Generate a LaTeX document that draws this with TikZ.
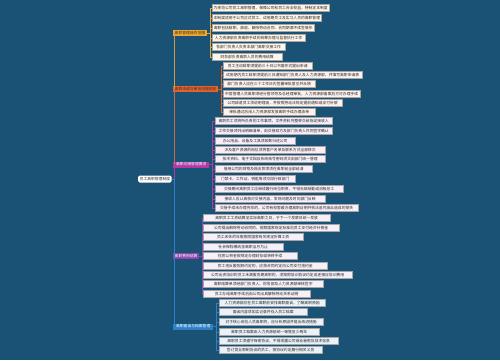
\documentclass[tikz,border=0pt]{standalone}
\usepackage{fontspec}
\setmainfont{Noto Sans CJK SC}
\usepackage{tikz}
\usetikzlibrary{positioning}

\definecolor{mapbg}{HTML}{1A5276}
\definecolor{scopecol}{HTML}{F2A62B}
\definecolor{applycol}{HTML}{E8622A}
\definecolor{handcol}{HTML}{B13BA6}
\definecolor{settlecol}{HTML}{8E44AD}
\definecolor{archcol}{HTML}{2F80C4}
\newcommand{\mapfont}{\fontsize{3.8}{4.5}\selectfont}

\begin{document}
\begin{tikzpicture}[x=1pt, y=-1pt,
    root/.style={rectangle, rounded corners=1.5pt, fill=white, minimum height=7pt, inner xsep=1.5pt, inner ysep=0pt, anchor=west, font=\mapfont, text=black!80},
    branch/.style={rectangle, fill=#1, minimum height=6pt, inner xsep=1.5pt, inner ysep=0pt, anchor=west, font=\mapfont},
    leaf/.style={rectangle, fill=#1, draw=black!35, line width=0.3pt, minimum height=7pt, inner xsep=1.5pt, inner ysep=0pt, anchor=west, font=\mapfont, text=black!85},
    link/.style={line width=0.6pt}
]
\fill[mapbg] (0,0) rectangle (500,360);

% Nodes
\node[root, minimum width=31pt] (root) at (138,179) {员工离职管理制度};

\node[branch=scopecol, minimum width=33pt, text=black!80] (scope) at (173,33) {离职管理目的范围};
\node[branch=applycol, minimum width=44pt, text=black!80] (apply) at (173,89) {离职申请与审批流程规定};
\node[branch=handcol, minimum width=36pt, text=white] (handover) at (173,164.5) {离职交接管理要求};
\node[branch=settlecol, minimum width=24pt, text=white] (settle) at (173,256) {离职费用结算};
\node[branch=archcol, minimum width=40pt, text=white] (archive) at (173,326.5) {离职面谈与档案管理};

% Leaves
\node[leaf=scopecol!10, minimum width=110pt] (scope1) at (212,8) {为规范公司员工离职管理，保障公司和员工合法权益，特制定本制度};
\node[leaf=scopecol!10, minimum width=109pt] (scope2) at (212,18) {本制度适用于公司正式员工、试用期员工及实习人员的离职管理};
\node[leaf=scopecol!10, minimum width=102pt] (scope3) at (212,28) {离职包括辞职、辞退、解除劳动合同、合同期满不续签情形};
\node[leaf=scopecol!10, minimum width=93pt] (scope4) at (212,38) {人力资源部负责离职手续的统筹办理与监督执行工作};
\node[leaf=scopecol!10, minimum width=73pt] (scope5) at (212,47) {各部门负责人负责本部门离职交接工作};
\node[leaf=scopecol!10, minimum width=70pt] (scope6) at (212,57) {财务部负责离职人员的费用结算};

\node[leaf=applycol!8, minimum width=89pt] (apply1) at (223,66) {员工主动辞职须提前三十日以书面形式提出申请};
\node[leaf=applycol!8, minimum width=139pt] (apply2) at (223,75) {试用期内员工辞职须提前三日通知部门负责人及人力资源部，并填写离职申请表};
\node[leaf=applycol!8, minimum width=92pt] (apply3) at (223,84) {部门负责人应在三个工作日内签署审批意见并反馈};
\node[leaf=applycol!8, minimum width=137pt] (apply4) at (223,94) {中层管理人员离职须经分管领导及总经理审批，人力资源部备案后方可办理手续};
\node[leaf=applycol!8, minimum width=119pt] (apply5) at (223,103) {公司辞退员工须说明理由，并按照劳动法规定提前通知或支付补偿};
\node[leaf=applycol!8, minimum width=92pt] (apply6) at (223,112) {审批通过后由人力资源部发放离职手续办理清单};

\node[leaf=handcol!8, minimum width=117pt] (hand1) at (215,121) {离职员工须将所负责的工作事项、文件资料完整移交给指定接收人};
\node[leaf=handcol!8, minimum width=117pt] (hand2) at (215,131) {工作交接须列出明细清单，由交接双方及部门负责人共同签字确认};
\node[leaf=handcol!8, minimum width=80pt] (hand3) at (215,141) {办公用品、设备及工具须如数归还公司};
\node[leaf=handcol!8, minimum width=110pt] (hand4) at (215,150) {涉及客户资源的岗位须将客户名单及联系方式全部移交};
\node[leaf=handcol!8, minimum width=110pt] (hand5) at (215,159) {技术资料、电子文档及系统账号密码须交由部门统一管理};
\node[leaf=handcol!8, minimum width=97pt] (hand6) at (215,169) {借用公司的财物及借支款项须在离职前全部结清};
\node[leaf=handcol!8, minimum width=80pt] (hand7) at (215,179) {门禁卡、工作证、钥匙等须交回行政部门};
\node[leaf=handcol!8, minimum width=128pt] (hand8) at (215,189) {交接期间离职员工应继续履行岗位职责，不得无故缺勤或消极怠工};
\node[leaf=handcol!8, minimum width=110pt] (hand9) at (215,199) {接收人应认真核对交接内容，发现问题及时向部门反映};
\node[leaf=handcol!8, minimum width=143pt] (hand10) at (215,208) {交接手续未办理完毕的，公司有权暂缓办理离职证明并依法追究由此造成的损失};

\node[leaf=settlecol!8, minimum width=127pt] (settle1) at (203,218) {离职员工工资结算至实际离职之日，于下一个发薪日统一发放};
\node[leaf=settlecol!8, minimum width=136pt] (settle2) at (203,228) {公司提出解除劳动合同的，按照国家规定标准向员工支付经济补偿金};
\node[leaf=settlecol!8, minimum width=100pt] (settle3) at (203,237) {员工未休的年假按照国家有关规定折算工资};
\node[leaf=settlecol!8, minimum width=80pt] (settle4) at (203,247) {社会保险缴纳至离职当月为止};
\node[leaf=settlecol!8, minimum width=94pt] (settle5) at (203,256) {住房公积金按规定办理封存或转移手续};
\node[leaf=settlecol!8, minimum width=124pt] (settle6) at (203,266) {员工违反服务期约定的，应按合同约定向公司支付违约金};
\node[leaf=settlecol!8, minimum width=149pt] (settle7) at (203,275) {公司出资培训的员工未满服务期离职的，须按照培训协议约定返还相应培训费用};
\node[leaf=settlecol!8, minimum width=120pt] (settle8) at (203,284) {离职结算单须经部门负责人、财务部及人力资源部审核签字};
\node[leaf=settlecol!8, minimum width=107pt] (settle9) at (203,294) {员工办结离职手续后由公司出具解除劳动关系证明};

\node[leaf=archcol!10, minimum width=106pt] (arch1) at (219,303) {人力资源部应在员工离职前安排离职面谈，了解离职原因};
\node[leaf=archcol!10, minimum width=88pt] (arch2) at (219,312) {面谈内容须如实记录并存入员工档案};
\node[leaf=archcol!10, minimum width=104pt] (arch3) at (219,322) {对于核心岗位人员离职的，应分析原因并提出改进措施};
\node[leaf=archcol!10, minimum width=100pt] (arch4) at (219,332) {离职员工档案由人力资源部统一保管至少两年};
\node[leaf=archcol!10, minimum width=119pt] (arch5) at (219,341) {离职员工须遵守保密协议，不得泄露公司商业秘密及技术信息};
\node[leaf=archcol!10, minimum width=103pt] (arch6) at (219,350) {签订竞业限制协议的员工，按协议约定履行相关义务};

% Links from root
\draw[link, scopecol!70!gray] (root.east) -- ++(2,0) |- (scope.west);
\draw[link, applycol!70!gray] (root.east) -- ++(2,0) |- (apply.west);
\draw[link, handcol] (root.east) -- ++(2,0) |- (handover.west);
\draw[link, settlecol] (root.east) -- ++(2,0) |- (settle.west);
\draw[link, archcol] (root.east) -- ++(2,0) |- (archive.west);

% Links to leaves
\draw[link, scopecol] (scope.east) -- ++(3,0) |- (scope1.west);
\draw[link, scopecol] (scope.east) -- ++(3,0) |- (scope2.west);
\draw[link, scopecol] (scope.east) -- ++(3,0) |- (scope3.west);
\draw[link, scopecol] (scope.east) -- ++(3,0) |- (scope4.west);
\draw[link, scopecol] (scope.east) -- ++(3,0) |- (scope5.west);
\draw[link, scopecol] (scope.east) -- ++(3,0) |- (scope6.west);

\draw[link, applycol] (apply.east) -- ++(3,0) |- (apply1.west);
\draw[link, applycol] (apply.east) -- ++(3,0) |- (apply2.west);
\draw[link, applycol] (apply.east) -- ++(3,0) |- (apply3.west);
\draw[link, applycol] (apply.east) -- ++(3,0) |- (apply4.west);
\draw[link, applycol] (apply.east) -- ++(3,0) |- (apply5.west);
\draw[link, applycol] (apply.east) -- ++(3,0) |- (apply6.west);

\draw[link, handcol] (handover.east) -- ++(3,0) |- (hand1.west);
\draw[link, handcol] (handover.east) -- ++(3,0) |- (hand2.west);
\draw[link, handcol] (handover.east) -- ++(3,0) |- (hand3.west);
\draw[link, handcol] (handover.east) -- ++(3,0) |- (hand4.west);
\draw[link, handcol] (handover.east) -- ++(3,0) |- (hand5.west);
\draw[link, handcol] (handover.east) -- ++(3,0) |- (hand6.west);
\draw[link, handcol] (handover.east) -- ++(3,0) |- (hand7.west);
\draw[link, handcol] (handover.east) -- ++(3,0) |- (hand8.west);
\draw[link, handcol] (handover.east) -- ++(3,0) |- (hand9.west);
\draw[link, handcol] (handover.east) -- ++(3,0) |- (hand10.west);

\draw[link, settlecol] (settle.east) -- ++(3,0) |- (settle1.west);
\draw[link, settlecol] (settle.east) -- ++(3,0) |- (settle2.west);
\draw[link, settlecol] (settle.east) -- ++(3,0) |- (settle3.west);
\draw[link, settlecol] (settle.east) -- ++(3,0) |- (settle4.west);
\draw[link, settlecol] (settle.east) -- ++(3,0) |- (settle5.west);
\draw[link, settlecol] (settle.east) -- ++(3,0) |- (settle6.west);
\draw[link, settlecol] (settle.east) -- ++(3,0) |- (settle7.west);
\draw[link, settlecol] (settle.east) -- ++(3,0) |- (settle8.west);
\draw[link, settlecol] (settle.east) -- ++(3,0) |- (settle9.west);

\draw[link, archcol] (archive.east) -- ++(3,0) |- (arch1.west);
\draw[link, archcol] (archive.east) -- ++(3,0) |- (arch2.west);
\draw[link, archcol] (archive.east) -- ++(3,0) |- (arch3.west);
\draw[link, archcol] (archive.east) -- ++(3,0) |- (arch4.west);
\draw[link, archcol] (archive.east) -- ++(3,0) |- (arch5.west);
\draw[link, archcol] (archive.east) -- ++(3,0) |- (arch6.west);

\end{tikzpicture}
\end{document}
